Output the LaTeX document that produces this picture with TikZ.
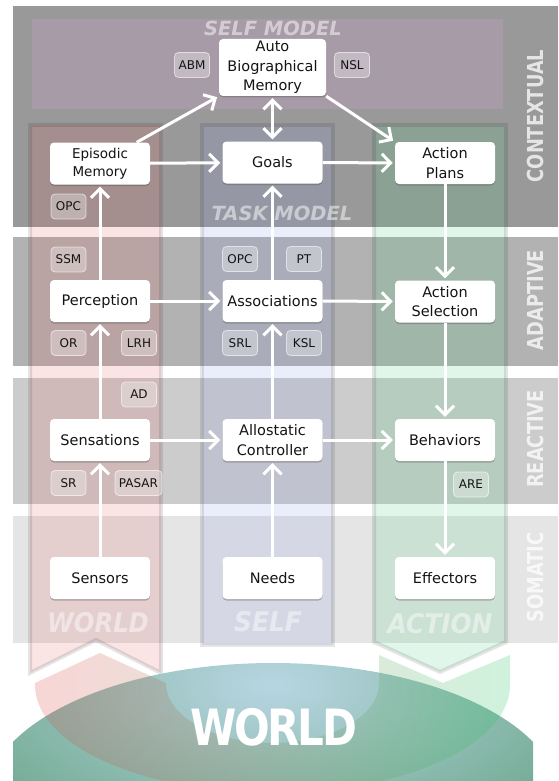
\documentclass[tikz,border=0pt]{standalone}
\usepackage{fontspec}
\setmainfont{DejaVu Sans}
\usetikzlibrary{arrows.meta,shadows,calc}
\definecolor{ctxband}{RGB}{153,153,153}
\definecolor{adpband}{RGB}{178,178,178}
\definecolor{reaband}{RGB}{204,204,204}
\definecolor{somband}{RGB}{229,229,229}
\definecolor{selfmodel}{RGB}{168,155,168}
\definecolor{worldcol}{RGB}{225,90,90}
\definecolor{selfcol}{RGB}{130,150,225}
\definecolor{actcol}{RGB}{70,205,125}
\definecolor{uleft}{RGB}{225,70,70}
\definecolor{uright}{RGB}{40,200,100}
\definecolor{ellin}{RGB}{184,214,226}
\definecolor{ellout}{RGB}{104,164,134}
\definecolor{txtdark}{RGB}{20,20,20}
\begin{document}
\begin{tikzpicture}[x=1pt,y=-1pt,
  box/.style={fill=white, rounded corners=4pt, minimum width=100pt, minimum height=42pt,
    align=center, inner sep=2pt, text=txtdark, font=\fontsize{14.5}{19.5}\selectfont,
    drop shadow={shadow xshift=0pt, shadow yshift=-1.5pt, opacity=0.35, fill=black!70}},
  tag/.style={fill=white, fill opacity=0.3, draw=white, draw opacity=0.6, text opacity=1,
    line width=0.8pt, rounded corners=4pt, minimum width=35pt, minimum height=25pt,
    inner xsep=4pt, inner ysep=0pt, text=txtdark, font=\fontsize{12}{14}\selectfont},
  conn/.style={draw=white, line width=3pt, -{Straight Barb[length=9pt,width=18pt]}, shorten >=2pt},
  both/.style={{Straight Barb[length=9pt,width=18pt]}-{Straight Barb[length=9pt,width=18pt]}, shorten <=2pt},
  bandlbl/.style={text=white, text opacity=0.75, font=\fontsize{22}{22}\selectfont\bfseries, rotate=90},
  collbl/.style={text=white, text opacity=0.45, font=\fontsize{27}{27}\selectfont\bfseries\itshape},
  modellbl/.style={text=white, text opacity=0.5, font=\fontsize{19.5}{19.5}\selectfont\bfseries\itshape},
  colshape/.style={fill opacity=0.16, draw=black, draw opacity=0.1, line width=4pt}
]
\useasboundingbox (0,0) rectangle (558,781);
\fill[white] (0,0) rectangle (558,781);

% layer bands
\fill[ctxband] (13,6) rectangle (558,227);
\fill[adpband] (13,237) rectangle (558,366);
\fill[reaband] (13,378) rectangle (558,504);
\fill[somband] (13,516) rectangle (558,643);

% self model
\fill[selfmodel] (32,19) rectangle (503,109);

% columns
\path[colshape, fill=worldcol] (30,125) -- (161,125) -- (161,673) -- (96,640) -- (30,673) -- cycle;
\path[colshape, fill=selfcol] (202,125) rectangle (333,645);
\path[colshape, fill=actcol] (374,125) -- (506,125) -- (506,642) -- (440,672) -- (374,642) -- cycle;

% world ellipse
\begin{scope}
  \clip (13,600) rectangle (533,781);
  \clip (273,800) ellipse [x radius=287pt, y radius=137pt];
  \shade[inner color=ellin, outer color=ellout] (273,685) ellipse [x radius=400pt, y radius=200pt];
\end{scope}

% U band
\shade[left color=uleft, right color=uright, fill opacity=0.22]
  (35,683) -- (100,653) -- (166,683)
  arc[start angle=180, end angle=360, x radius=106.5pt, y radius=60pt]
  -- (379,655) -- (443,683) -- (510,655) -- (510,685)
  arc[start angle=0, end angle=-180, x radius=237.5pt, y radius=108pt]
  -- cycle;

\node[font=\fontsize{50}{50}\selectfont\bfseries, text=white] (world) at (274,727)
  {\scalebox{0.84}[1]{W\kern-3pt O\kern-3pt R\kern-2pt L\kern-2pt D}};

% labels
\node[modellbl] (selfmodellbl) at (273,28) {SELF MODEL};
\node[modellbl] (taskmodellbl) at (282,213) {TASK MODEL};
\node[collbl] (worldlbl) at (98,623) {\scalebox{0.9}[1]{WORLD}};
\node[collbl] (selflbl) at (268,622) {\scalebox{0.92}[1]{SELF}};
\node[collbl] (actionlbl) at (440,624) {\scalebox{0.92}[1]{ACTION}};

\node[bandlbl] (lctx) at (535,116) {\scalebox{0.81}[1]{CONTEXTUAL}};
\node[bandlbl] (ladp) at (535,300) {\scalebox{0.81}[1]{ADAPTIVE}};
\node[bandlbl] (lrea) at (535,439) {\scalebox{0.81}[1]{REACTIVE}};
\node[bandlbl] (lsom) at (535,577.5) {\scalebox{0.81}[1]{SOMATIC}};

% main boxes
\node[box, minimum width=107pt, minimum height=57pt] (abm) at (272.5,67.5) {Auto\\Biographical\\Memory};
\node[box, font=\fontsize{13.5}{18}\selectfont] (epi) at (100,163.5) {Episodic\\Memory};
\node[box] (goals) at (272.5,162.5) {Goals};
\node[box] (aplan) at (445,163) {Action\\Plans};
\node[box] (perc) at (100,301) {Perception};
\node[box] (assoc) at (272.5,301) {Associations};
\node[box] (asel) at (445,301.5) {Action\\Selection};
\node[box] (sens) at (100,440) {Sensations};
\node[box] (allo) at (272.5,440) {Allostatic\\Controller};
\node[box] (beh) at (445,440) {Behaviors};
\node[box] (sensors) at (100,578) {Sensors};
\node[box] (needs) at (272.5,578) {Needs};
\node[box] (eff) at (445,578) {Effectors};

% tags
\node[tag] (tabm) at (192,65) {ABM};
\node[tag] (tnsl) at (352,65) {NSL};
\node[tag] (topca) at (68.5,206.5) {OPC};
\node[tag] (tssm) at (68.5,259.5) {SSM};
\node[tag] (topcb) at (240,259) {OPC};
\node[tag] (tpt) at (304,259) {PT};
\node[tag] (tor) at (68.5,343) {OR};
\node[tag] (tlrh) at (139,343) {LRH};
\node[tag] (tsrl) at (240,343) {SRL};
\node[tag] (tksl) at (304,343) {KSL};
\node[tag] (tad) at (139,394.5) {AD};
\node[tag] (tsr) at (68.5,483) {SR};
\node[tag] (tpasar) at (138.5,483) {PASAR};
\node[tag] (tare) at (471,484.5) {ARE};

% connectors
\draw[conn] (epi.30) -- (abm.south west);
\draw[conn, both] (abm) -- (goals);
\draw[conn] (abm.south east) -- (aplan.north west);
\draw[conn] (epi) -- (goals);
\draw[conn] (goals) -- (aplan);
\draw[conn] (perc) -- (epi);
\draw[conn] (assoc) -- (goals);
\draw[conn] (aplan) -- (asel);
\draw[conn] (perc) -- (assoc);
\draw[conn] (assoc) -- (asel);
\draw[conn] (sens) -- (perc);
\draw[conn] (allo) -- (assoc);
\draw[conn] (asel) -- (beh);
\draw[conn] (sens) -- (allo);
\draw[conn] (allo) -- (beh);
\draw[conn] (sensors) -- (sens);
\draw[conn] (needs) -- (allo);
\draw[conn] (beh) -- (eff);
\end{tikzpicture}
\end{document}
